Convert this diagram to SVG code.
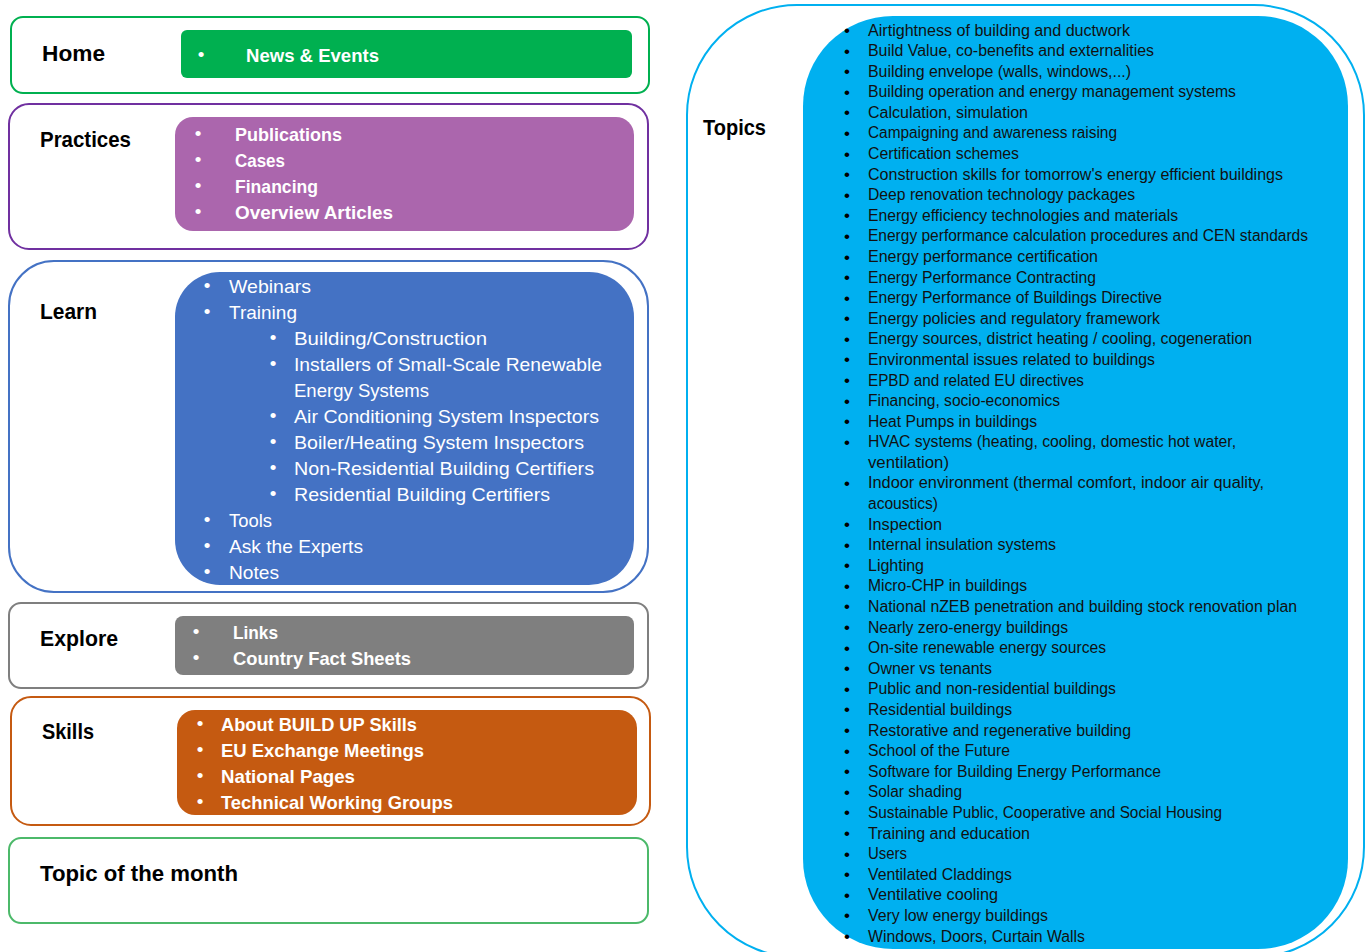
<svg xmlns="http://www.w3.org/2000/svg" width="1370" height="952" viewBox="0 0 1370 952">
<style>
text{font-family:"Liberation Sans","Noto Sans",sans-serif}
.lbl{font-size:22px;font-weight:bold;fill:#000}
.it{font-size:19px;fill:#fff}
.b{font-weight:bold}
.blt{font-size:19px;fill:#fff}
.tp{font-size:16px;fill:#111}
.tb{font-size:17px;fill:#000}
.outer{fill:#fff;stroke-width:2}
</style>
<rect width="1370" height="952" fill="#fff"/>
<g id="connectors"></g>

<g id="home">
<rect class="outer" x="11" y="17" width="638" height="76" rx="12" stroke="#00b050"/>
<rect x="181" y="30" width="451" height="48" rx="6" fill="#00b050"/>
<text class="lbl" x="42" y="61" textLength="63" lengthAdjust="spacingAndGlyphs">Home</text>
<text class="blt" x="197.7" y="61">•</text>
<text class="it b" x="246" y="62" textLength="133" lengthAdjust="spacingAndGlyphs">News &amp; Events</text>
</g>

<g id="practices">
<rect class="outer" x="9" y="104" width="639" height="145" rx="20" stroke="#7030a0"/>
<rect x="175" y="117" width="459" height="114" rx="18" fill="#ab66ad"/>
<text class="lbl" x="40" y="147" textLength="91" lengthAdjust="spacingAndGlyphs">Practices</text>
<g class="blt"><text x="194.7" y="140">•</text><text x="194.7" y="166">•</text><text x="194.7" y="192">•</text><text x="194.7" y="218">•</text></g>
<text class="it b" x="235" y="141" textLength="107" lengthAdjust="spacingAndGlyphs">Publications</text>
<text class="it b" x="235" y="167" textLength="50" lengthAdjust="spacingAndGlyphs">Cases</text>
<text class="it b" x="235" y="193" textLength="83" lengthAdjust="spacingAndGlyphs">Financing</text>
<text class="it b" x="235" y="219" textLength="158" lengthAdjust="spacingAndGlyphs">Overview Articles</text>
</g>

<g id="learn">
<rect class="outer" x="9" y="261" width="639" height="331" rx="45" stroke="#4472c4"/>
<rect x="175" y="272" width="459" height="313" rx="45" fill="#4472c4"/>
<text class="lbl" x="40" y="319" textLength="57" lengthAdjust="spacingAndGlyphs">Learn</text>
<g class="blt">
<text x="203.7" y="292">•</text><text x="203.7" y="318">•</text>
<text x="269.7" y="344">•</text><text x="269.7" y="370">•</text><text x="269.7" y="422">•</text><text x="269.7" y="448">•</text><text x="269.7" y="474">•</text><text x="269.7" y="500">•</text>
<text x="203.7" y="526">•</text><text x="203.7" y="552">•</text><text x="203.7" y="578">•</text>
</g>
<text class="it" x="229" y="293" textLength="82" lengthAdjust="spacingAndGlyphs">Webinars</text>
<text class="it" x="229" y="319" textLength="68" lengthAdjust="spacingAndGlyphs">Training</text>
<text class="it" x="294" y="345" textLength="193" lengthAdjust="spacingAndGlyphs">Building/Construction</text>
<text class="it" x="294" y="371" textLength="308" lengthAdjust="spacingAndGlyphs">Installers of Small-Scale Renewable</text>
<text class="it" x="294" y="397" textLength="135" lengthAdjust="spacingAndGlyphs">Energy Systems</text>
<text class="it" x="294" y="423" textLength="305" lengthAdjust="spacingAndGlyphs">Air Conditioning System Inspectors</text>
<text class="it" x="294" y="449" textLength="290" lengthAdjust="spacingAndGlyphs">Boiler/Heating System Inspectors</text>
<text class="it" x="294" y="475" textLength="300" lengthAdjust="spacingAndGlyphs">Non-Residential Building Certifiers</text>
<text class="it" x="294" y="501" textLength="256" lengthAdjust="spacingAndGlyphs">Residential Building Certifiers</text>
<text class="it" x="229" y="527" textLength="43" lengthAdjust="spacingAndGlyphs">Tools</text>
<text class="it" x="229" y="553" textLength="134" lengthAdjust="spacingAndGlyphs">Ask the Experts</text>
<text class="it" x="229" y="579" textLength="50" lengthAdjust="spacingAndGlyphs">Notes</text>
</g>

<g id="explore">
<rect class="outer" x="9" y="603" width="639" height="85" rx="12" stroke="#7f7f7f"/>
<rect x="175" y="616" width="459" height="59" rx="8" fill="#7f7f7f"/>
<text class="lbl" x="40" y="646" textLength="78" lengthAdjust="spacingAndGlyphs">Explore</text>
<g class="blt"><text x="192.7" y="638">•</text><text x="192.7" y="664">•</text></g>
<text class="it b" x="233" y="639" textLength="45" lengthAdjust="spacingAndGlyphs">Links</text>
<text class="it b" x="233" y="665" textLength="178" lengthAdjust="spacingAndGlyphs">Country Fact Sheets</text>
</g>

<g id="skills">
<rect class="outer" x="11" y="697" width="639" height="128" rx="20" stroke="#c55a11"/>
<rect x="177" y="710" width="460" height="105" rx="18" fill="#c55a11"/>
<text class="lbl" x="42" y="739" textLength="52" lengthAdjust="spacingAndGlyphs">Skills</text>
<g class="blt"><text x="196.7" y="730">•</text><text x="196.7" y="756">•</text><text x="196.7" y="782">•</text><text x="196.7" y="808">•</text></g>
<text class="it b" x="221" y="731" textLength="196" lengthAdjust="spacingAndGlyphs">About BUILD UP Skills</text>
<text class="it b" x="221" y="757" textLength="203" lengthAdjust="spacingAndGlyphs">EU Exchange Meetings</text>
<text class="it b" x="221" y="783" textLength="134" lengthAdjust="spacingAndGlyphs">National Pages</text>
<text class="it b" x="221" y="809" textLength="232" lengthAdjust="spacingAndGlyphs">Technical Working Groups</text>
</g>

<g id="topic-of-the-month">
<rect class="outer" x="9" y="838" width="639" height="85" rx="12" stroke="#4cb96a"/>
<text class="lbl" x="40" y="881" textLength="198" lengthAdjust="spacingAndGlyphs">Topic of the month</text>
</g>

<g id="topics">
<rect class="outer" x="687" y="5" width="677" height="952" rx="110" stroke="#00b0f0"/>
<rect x="803" y="16" width="545" height="933" rx="90" fill="#00b0f0"/>
<text class="lbl" x="703" y="135" textLength="63" lengthAdjust="spacingAndGlyphs">Topics</text>
<g class="tb">
<text x="844" y="36">•</text><text x="844" y="57">•</text><text x="844" y="77">•</text><text x="844" y="98">•</text><text x="844" y="118">•</text><text x="844" y="139">•</text><text x="844" y="160">•</text><text x="844" y="180">•</text><text x="844" y="201">•</text><text x="844" y="221">•</text><text x="844" y="242">•</text><text x="844" y="263">•</text><text x="844" y="283">•</text><text x="844" y="304">•</text><text x="844" y="324">•</text><text x="844" y="345">•</text><text x="844" y="365">•</text><text x="844" y="386">•</text><text x="844" y="407">•</text><text x="844" y="427">•</text><text x="844" y="448">•</text><text x="844" y="489">•</text><text x="844" y="530">•</text><text x="844" y="551">•</text><text x="844" y="571">•</text><text x="844" y="592">•</text><text x="844" y="612">•</text><text x="844" y="633">•</text><text x="844" y="654">•</text><text x="844" y="674">•</text><text x="844" y="695">•</text><text x="844" y="715">•</text><text x="844" y="736">•</text><text x="844" y="757">•</text><text x="844" y="777">•</text><text x="844" y="798">•</text><text x="844" y="818">•</text><text x="844" y="839">•</text><text x="844" y="860">•</text><text x="844" y="880">•</text><text x="844" y="901">•</text><text x="844" y="921">•</text><text x="844" y="942">•</text>
</g>
<g class="tp">
<text x="868" y="36" textLength="262" lengthAdjust="spacingAndGlyphs">Airtightness of building and ductwork</text>
<text x="868" y="56" textLength="286" lengthAdjust="spacingAndGlyphs">Build Value, co-benefits and externalities</text>
<text x="868" y="77" textLength="263" lengthAdjust="spacingAndGlyphs">Building envelope (walls, windows,...)</text>
<text x="868" y="97" textLength="368" lengthAdjust="spacingAndGlyphs">Building operation and energy management systems</text>
<text x="868" y="118" textLength="160" lengthAdjust="spacingAndGlyphs">Calculation, simulation</text>
<text x="868" y="138" textLength="249" lengthAdjust="spacingAndGlyphs">Campaigning and awareness raising</text>
<text x="868" y="159" textLength="151" lengthAdjust="spacingAndGlyphs">Certification schemes</text>
<text x="868" y="180" textLength="415" lengthAdjust="spacingAndGlyphs">Construction skills for tomorrow's energy efficient buildings</text>
<text x="868" y="200" textLength="267" lengthAdjust="spacingAndGlyphs">Deep renovation technology packages</text>
<text x="868" y="221" textLength="310" lengthAdjust="spacingAndGlyphs">Energy efficiency technologies and materials</text>
<text x="868" y="241" textLength="440" lengthAdjust="spacingAndGlyphs">Energy performance calculation procedures and CEN standards</text>
<text x="868" y="262" textLength="230" lengthAdjust="spacingAndGlyphs">Energy performance certification</text>
<text x="868" y="283" textLength="228" lengthAdjust="spacingAndGlyphs">Energy Performance Contracting</text>
<text x="868" y="303" textLength="294" lengthAdjust="spacingAndGlyphs">Energy Performance of Buildings Directive</text>
<text x="868" y="324" textLength="292" lengthAdjust="spacingAndGlyphs">Energy policies and regulatory framework</text>
<text x="868" y="344" textLength="384" lengthAdjust="spacingAndGlyphs">Energy sources, district heating / cooling, cogeneration</text>
<text x="868" y="365" textLength="287" lengthAdjust="spacingAndGlyphs">Environmental issues related to buildings</text>
<text x="868" y="386" textLength="216" lengthAdjust="spacingAndGlyphs">EPBD and related EU directives</text>
<text x="868" y="406" textLength="192" lengthAdjust="spacingAndGlyphs">Financing, socio-economics</text>
<text x="868" y="427" textLength="169" lengthAdjust="spacingAndGlyphs">Heat Pumps in buildings</text>
<text x="868" y="447" textLength="368" lengthAdjust="spacingAndGlyphs">HVAC systems (heating, cooling, domestic hot water,</text>
<text x="868" y="468" textLength="81" lengthAdjust="spacingAndGlyphs">ventilation)</text>
<text x="868" y="488" textLength="396" lengthAdjust="spacingAndGlyphs">Indoor environment (thermal comfort, indoor air quality,</text>
<text x="868" y="509" textLength="70" lengthAdjust="spacingAndGlyphs">acoustics)</text>
<text x="868" y="530" textLength="74" lengthAdjust="spacingAndGlyphs">Inspection</text>
<text x="868" y="550" textLength="188" lengthAdjust="spacingAndGlyphs">Internal insulation systems</text>
<text x="868" y="571" textLength="56" lengthAdjust="spacingAndGlyphs">Lighting</text>
<text x="868" y="591" textLength="159" lengthAdjust="spacingAndGlyphs">Micro-CHP in buildings</text>
<text x="868" y="612" textLength="429" lengthAdjust="spacingAndGlyphs">National nZEB penetration and building stock renovation plan</text>
<text x="868" y="633" textLength="200" lengthAdjust="spacingAndGlyphs">Nearly zero-energy buildings</text>
<text x="868" y="653" textLength="238" lengthAdjust="spacingAndGlyphs">On-site renewable energy sources</text>
<text x="868" y="674" textLength="124" lengthAdjust="spacingAndGlyphs">Owner vs tenants</text>
<text x="868" y="694" textLength="248" lengthAdjust="spacingAndGlyphs">Public and non-residential buildings</text>
<text x="868" y="715" textLength="144" lengthAdjust="spacingAndGlyphs">Residential buildings</text>
<text x="868" y="736" textLength="263" lengthAdjust="spacingAndGlyphs">Restorative and regenerative building</text>
<text x="868" y="756" textLength="142" lengthAdjust="spacingAndGlyphs">School of the Future</text>
<text x="868" y="777" textLength="293" lengthAdjust="spacingAndGlyphs">Software for Building Energy Performance</text>
<text x="868" y="797" textLength="94" lengthAdjust="spacingAndGlyphs">Solar shading</text>
<text x="868" y="818" textLength="354" lengthAdjust="spacingAndGlyphs">Sustainable Public, Cooperative and Social Housing</text>
<text x="868" y="839" textLength="162" lengthAdjust="spacingAndGlyphs">Training and education</text>
<text x="868" y="859" textLength="39" lengthAdjust="spacingAndGlyphs">Users</text>
<text x="868" y="880" textLength="144" lengthAdjust="spacingAndGlyphs">Ventilated Claddings</text>
<text x="868" y="900" textLength="130" lengthAdjust="spacingAndGlyphs">Ventilative cooling</text>
<text x="868" y="921" textLength="180" lengthAdjust="spacingAndGlyphs">Very low energy buildings</text>
<text x="868" y="942" textLength="217" lengthAdjust="spacingAndGlyphs">Windows, Doors, Curtain Walls</text>
</g>
</g>
</svg>
